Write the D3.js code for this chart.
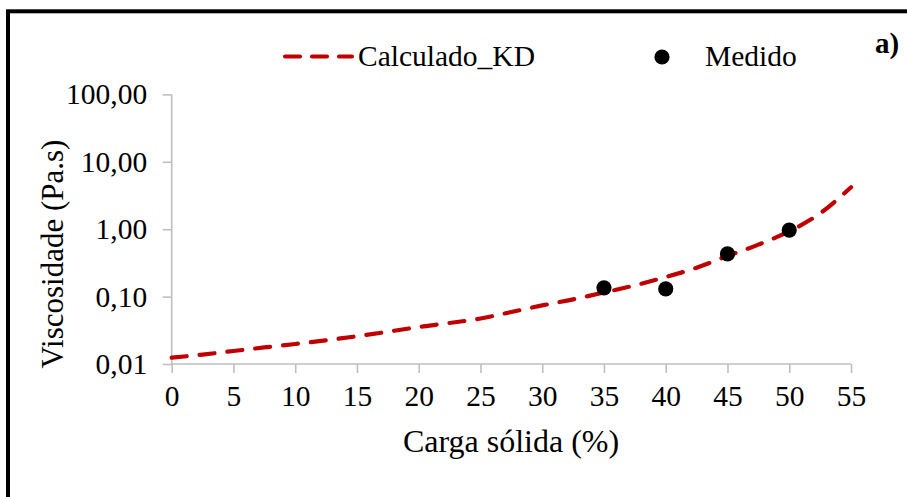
<!DOCTYPE html>
<html><head><meta charset="utf-8">
<script src="https://cdn.jsdelivr.net/npm/d3@7"></script>
<style>html,body{margin:0;padding:0;background:#fff;overflow:hidden}</style>
</head><body>
<svg id="c" width="907" height="497"></svg>
<script>
// Data
const curveX = [0,2.5,5,7.5,10,12.5,15,17.5,20,22.5,25,27.5,30,32.5,35,37.5,40,42.5,45,47.5,50,52.5,55];
const curveY = [0.0124,0.0138,0.0156,0.0176,0.0198,0.0225,0.0258,0.0301,0.0354,0.0406,0.0473,0.0591,0.074,0.091,0.115,0.147,0.195,0.268,0.40,0.59,0.93,1.72,4.2];
const measX = [35,40,45,50];
const measY = [0.135,0.13,0.43,0.97];
const xTicks = [0,5,10,15,20,25,30,35,40,45,50,55];
const yTicks = [0.01,0.1,1,10,100];
const yTickLabels = ["0,01","0,10","1,00","10,00","100,00"];

const svg = d3.select("#c");
const font = "'Liberation Serif','Times New Roman',serif";
const x = d3.scaleLinear().domain([0,55]).range([171.7,851]);
const y = d3.scaleLog().domain([0.01,100]).range([364,94.4]);

// outer border
svg.append("rect").attr("x",8).attr("y",11.3).attr("width",960).attr("height",560)
  .attr("fill","none").attr("stroke","#000").attr("stroke-width",4);

const axColor = "#bfbfbf";
// y axis
const ya = svg.append("g").attr("transform","translate(171.7,0)")
  .call(d3.axisLeft(y).tickValues(yTicks).tickSize(9).tickFormat((d,i)=>yTickLabels[i]).tickPadding(15.5));
// x axis
const xa = svg.append("g").attr("transform","translate(0,364)")
  .call(d3.axisBottom(x).tickValues(xTicks).tickSize(9).tickPadding(12));
[ya,xa].forEach(g=>{
  g.select(".domain").attr("stroke",axColor).attr("stroke-width",1.6);
  g.selectAll(".tick line").attr("stroke",axColor).attr("stroke-width",1.6);
  g.selectAll("text").attr("font-family",font).attr("font-size",29.5).attr("fill","#000");
});
ya.select(".domain").attr("d","M0,364V94.4");
xa.select(".domain").attr("d","M171.7,0H851");

// curve
const line = d3.line().x((d,i)=>x(curveX[i])).y((d,i)=>y(curveY[i])).curve(d3.curveMonotoneX);
svg.append("path").datum(curveY).attr("d",line).attr("fill","none")
  .attr("stroke","#c00000").attr("stroke-width",4.2).attr("stroke-dasharray","15,13")
  .attr("stroke-linecap","round");

// points
svg.selectAll("circle.m").data(measY).enter().append("circle").attr("class","m")
  .attr("cx",(d,i)=>x(measX[i])).attr("cy",d=>y(d)).attr("r",7.6).attr("fill","#000");

// axis titles
svg.append("text").attr("x",511).attr("y",452).attr("text-anchor","middle")
  .attr("font-family",font).attr("font-size",32).text("Carga sólida (%)");
svg.append("text").attr("transform","translate(63,254) rotate(-90)").attr("text-anchor","middle")
  .attr("font-family",font).attr("font-size",31).text("Viscosidade (Pa.s)");

// legend
svg.append("line").attr("x1",285).attr("x2",352).attr("y1",56.5).attr("y2",56.5)
  .attr("stroke","#c00000").attr("stroke-width",4.2).attr("stroke-dasharray","15,12")
  .attr("stroke-linecap","round");
svg.append("text").attr("x",358).attr("y",66).attr("font-family",font).attr("font-size",29.5).text("Calculado_KD");
svg.append("circle").attr("cx",662).attr("cy",57).attr("r",7.6).attr("fill","#000");
svg.append("text").attr("x",705).attr("y",66).attr("font-family",font).attr("font-size",29.5).text("Medido");

// panel label
svg.append("text").attr("x",875).attr("y",53).attr("font-family",font).attr("font-size",29)
  .attr("font-weight","bold").text("a)");
</script>
</body></html>
